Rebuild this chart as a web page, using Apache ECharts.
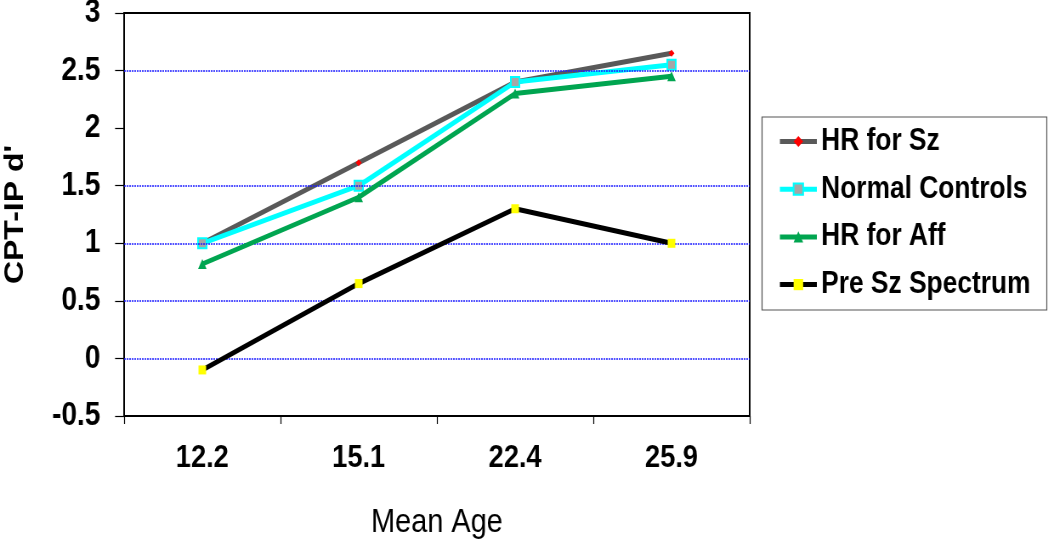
<!DOCTYPE html>
<html><head><meta charset="utf-8">
<script src="https://cdn.jsdelivr.net/npm/echarts@6/dist/echarts.min.js"></script>
<style>
html,body{margin:0;padding:0;background:#fff;overflow:hidden}
#wrap{width:1050px;height:539px;overflow:hidden}
#c{width:1235px;height:539px;transform:scale(0.85,1);transform-origin:0 0}
</style>
</head><body><div id="wrap"><div id="c"></div></div>
<script>
const categories = ['12.2', '15.1', '22.4', '25.9'];
const hrSz = [1.0, 1.7, 2.4, 2.65];
const normalControls = [1.0, 1.5, 2.4, 2.55];
const hrAff = [0.82, 1.4, 2.3, 2.45];
const preSz = [-0.1, 0.65, 1.3, 1.0];
const gridValues = [0, 0.5, 1, 1.5, 2.5];
const seriesNames = ['HR for Sz', 'Normal Controls', 'HR for Aff', 'Pre Sz Spectrum'];

const FONT = '"Liberation Sans", Arial, Helvetica, sans-serif';

const chart = echarts.init(document.getElementById('c'), null, {renderer: 'canvas'});
chart.setOption({
  animation: false,
  backgroundColor: '#fff',
  grid: {left: 146, right: 353, top: 13, bottom: 123, containLabel: false, outerBoundsMode: 'none',
         show: true, borderColor: '#000', borderWidth: 2, backgroundColor: 'transparent'},
  graphic: [{type: 'rect', shape: {x: 896.5, y: 117, width: 335, height: 193},
             style: {fill: 'transparent', stroke: '#555', lineWidth: 1.2}, z: 100}],
  legend: {
    orient: 'vertical', left: 915, top: 126, padding: 0,
    itemWidth: 43.5, itemHeight: 14, itemGap: 16.7,
    lineStyle: {width: 5},
    textStyle: {fontFamily: FONT, fontWeight: 'bold', fontSize: 31, color: '#000'},
    data: seriesNames
  },
  xAxis: {
    type: 'category', data: categories, boundaryGap: true,
    name: 'Mean Age', nameLocation: 'middle', nameGap: 90,
    nameTextStyle: {fontFamily: FONT, fontSize: 34, color: '#000'},
    axisLine: {onZero: false, lineStyle: {color: '#000', width: 2}},
    axisTick: {show: true, inside: false, length: 8, alignWithLabel: false, lineStyle: {color: '#000', width: 1.2}},
    axisLabel: {fontFamily: FONT, fontWeight: 'bold', fontSize: 32, color: '#000', margin: 26},
    splitLine: {show: false}
  },
  yAxis: {
    type: 'value', min: -0.5, max: 3, interval: 0.5,
    name: "CPT-IP d'", nameLocation: 'middle', nameGap: 112, nameRotate: 90,
    nameTextStyle: {fontFamily: FONT, fontWeight: 'bold', fontSize: 32, color: '#000'},
    axisLine: {show: true, onZero: false, lineStyle: {color: '#000', width: 2}},
    axisTick: {show: true, inside: false, length: 10.6, lineStyle: {color: '#000', width: 1.2}},
    axisLabel: {fontFamily: FONT, fontWeight: 'bold', fontSize: 33, color: '#000', margin: 28},
    splitLine: {show: false}
  },
  series: [
    {type: 'line', name: '__grid', data: [], silent: true, z: 1,
     markLine: {silent: true, symbol: 'none', label: {show: false}, animation: false,
       lineStyle: {color: '#1a1aff', type: [2, 1], width: 1.5},
       data: gridValues.map(v => ({yAxis: v}))}},
    {type: 'line', name: seriesNames[0], data: hrSz, z: 3,
     lineStyle: {color: '#595959', width: 5}, itemStyle: {color: '#ff0000'},
     symbol: 'diamond', symbolSize: 7},
    {type: 'line', name: seriesNames[1], data: normalControls, z: 4,
     lineStyle: {color: '#00ffff', width: 5}, itemStyle: {color: '#a6a6a6', borderColor: '#00ffff', borderWidth: 2},
     symbol: 'rect', symbolSize: 10},
    {type: 'line', name: seriesNames[2], data: hrAff, z: 5,
     lineStyle: {color: '#00a550', width: 5}, itemStyle: {color: '#00a550'},
     symbol: 'triangle', symbolSize: 10},
    {type: 'line', name: seriesNames[3], data: preSz, z: 6,
     lineStyle: {color: '#000000', width: 5}, itemStyle: {color: '#ffff00'},
     symbol: 'rect', symbolSize: 9}
  ]
});
</script></body></html>
